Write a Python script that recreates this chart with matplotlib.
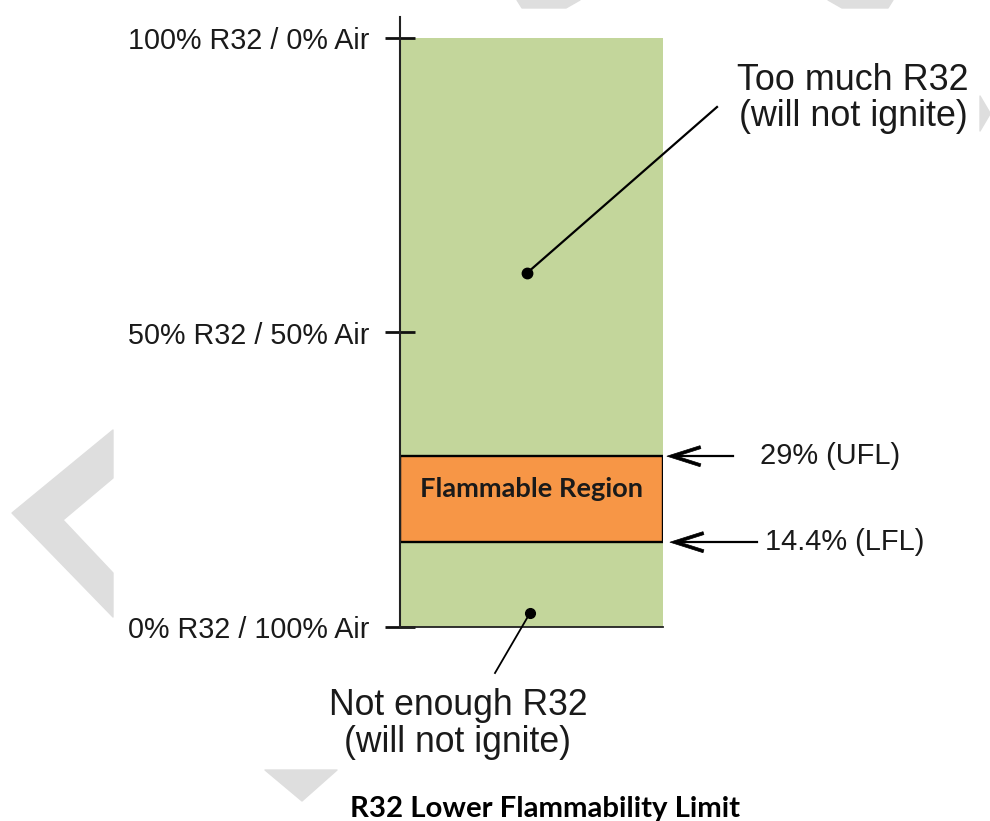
import matplotlib
matplotlib.use("Agg")
import matplotlib.pyplot as plt
from matplotlib.patches import Polygon
from matplotlib.lines import Line2D

# ---- data ----
tick_values = [0, 50, 100]
tick_labels = ["0% R32 / 100% Air", "50% R32 / 50% Air", "100% R32 / 0% Air"]
total_pct = 100
lfl = 14.4
ufl = 29
lfl_label = "14.4% (LFL)"
ufl_label = "29% (UFL)"
region_label = "Flammable Region"
too_much = ["Too much R32", "(will not ignite)"]
not_enough = ["Not enough R32", "(will not ignite)"]
title = "R32 Lower Flammability Limit"

W, H = 990, 821
fig = plt.figure(figsize=(W / 100, H / 100), dpi=100)
plt.rcParams['font.family'] = ['Liberation Sans', 'DejaVu Sans']

def fx(x):
    return x / W

def fy(y):
    return 1 - y / H

TXT = '#1a1a1a'
GREY = '#dedede'

# background watermark shapes
bg = fig.add_axes([0, 0, 1, 1], zorder=0)
bg.set_xlim(0, W)
bg.set_ylim(H, 0)
bg.axis('off')
shapes = [
    [(113, 430), (12, 513), (113, 617), (113, 573), (63, 520), (113, 478)],
    [(265, 770), (337, 770), (302, 801)],
    [(980, 96), (990, 113), (990, 114), (980, 131)],
    [(517, 0), (580, 0), (566, 8), (522, 8)],
    [(828, 0), (893, 0), (888, 8), (842, 8)],
]
for s in shapes:
    bg.add_patch(Polygon(s, closed=True, facecolor=GREY, edgecolor=GREY,
                         linewidth=1, joinstyle='round'))

# main axes: bar column
x0, x1, ybot, yaxis_top, y100 = 400, 663, 627, 17, 38
ax = fig.add_axes([fx(x0), fy(ybot), fx(x1) - fx(x0), fy(yaxis_top) - fy(ybot)], zorder=1)
ax.patch.set_alpha(0)
ax.set_xlim(0, 1)
ax.set_ylim(0, total_pct * (ybot - yaxis_top) / (ybot - y100))

ax.bar(0.5, total_pct, width=1, color='#c3d69b', zorder=1)
ax.bar(0.5, ufl - lfl, bottom=lfl, width=1, color='#f79646',
       edgecolor='black', linewidth=1.7, zorder=2)

for side in ['top', 'right']:
    ax.spines[side].set_visible(False)
ax.spines['left'].set_color('#222222')
ax.spines['left'].set_linewidth(1.5)
ax.spines['bottom'].set_color('#222222')
ax.spines['bottom'].set_linewidth(1.3)
ax.spines['left'].set_zorder(3)
ax.set_xticks([])
ax.set_yticks(tick_values)
ax.set_yticklabels(tick_labels, fontsize=20.7, color=TXT)
ax.tick_params(axis='y', direction='inout', length=21.6, width=2.0,
               color='#111111', pad=11.5)

# flammable region label (fit to reference width)
rt = ax.text(0.5, (lfl + ufl) / 2 + 1.8, region_label, ha='center', va='center',
             fontsize=16, fontweight='bold', color=TXT, zorder=4,
             family=['Lato', 'DejaVu Sans'])

# overlay: leader lines, dots, callout texts, arrows
ov = fig.add_axes([0, 0, 1, 1], zorder=2)
ov.patch.set_alpha(0)
ov.set_xlim(0, W)
ov.set_ylim(H, 0)
ov.axis('off')

def data_to_px(x, y):
    dx, dy = ax.transData.transform((x, y))
    return dx, H - dy

def left_arrow(tip_x, tail_x, y):
    ov.add_line(Line2D([tip_x + 6, tail_x], [y, y], color='black', lw=1.6))
    head = [(tip_x, y), (tip_x + 33, y - 10.5), (tip_x + 33.9, y - 7.6),
            (tip_x + 10, y), (tip_x + 33.9, y + 7.6), (tip_x + 33, y + 10.5)]
    ov.add_patch(Polygon(head, closed=True, facecolor='black', edgecolor='black',
                         linewidth=0.5, joinstyle='round'))

_, yu = data_to_px(1, ufl)
_, yl = data_to_px(1, lfl)
left_arrow(667, 733, yu)
left_arrow(670, 757, yl)
ov.text(760, yu, ufl_label, ha='left', va='center', fontsize=20.9, color=TXT)
ov.text(765, yl, lfl_label, ha='left', va='center', fontsize=20.9, color=TXT)

ov.add_line(Line2D([527, 717], [273, 107], color='black', lw=1.6))
ov.plot([527], [273], 'o', color='black', markersize=7.5)
ov.add_line(Line2D([530, 495], [613, 673], color='black', lw=1.3))
ov.plot([530], [613], 'o', color='black', markersize=7)

ov.text(853, 90, too_much[0], ha='center', va='baseline', fontsize=25.8, color=TXT)
ov.text(853, 126, too_much[1], ha='center', va='baseline', fontsize=25.8, color=TXT)
ov.text(458, 715, not_enough[0], ha='center', va='baseline', fontsize=25.6, color=TXT)
ov.text(458, 752, not_enough[1], ha='center', va='baseline', fontsize=25.6, color=TXT)

t = ov.text(545, 817, title, ha='center', va='baseline', fontsize=21,
            fontweight='bold', color='black', family=['Lato', 'DejaVu Sans'])
fig.canvas.draw()
bb = t.get_window_extent()
t.set_fontsize(21 * 390 / bb.width)
rb = rt.get_window_extent()
rt.set_fontsize(16 * 224 / rb.width)

fig.savefig('out.png', dpi=100, facecolor='white')
